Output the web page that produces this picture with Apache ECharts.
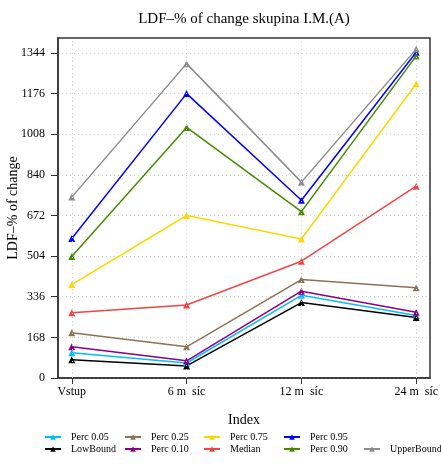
<!DOCTYPE html>
<html>
<head>
<meta charset="utf-8">
<script src="https://cdn.jsdelivr.net/npm/echarts@6/dist/echarts.min.js"></script>
<style>
html,body{margin:0;padding:0;background:#fff;}
#chart{width:441px;height:473px;}
</style>
</head>
<body>
<div id="chart"></div>
<script>
const categories = ['Vstup', '6 m  síc', '12 m  síc', '24 m  síc'];
const yTicks = [0, 168, 336, 504, 672, 840, 1008, 1176, 1344];

const perc005 = [104, 62, 342, 258];
const lowBound = [75, 50, 312, 250];
const perc025 = [187, 129, 407, 373];
const perc010 = [129, 71, 359, 272];
const perc075 = [386, 672, 575, 1217];
const median = [270, 302, 483, 793];
const perc095 = [577, 1176, 735, 1347];
const perc090 = [502, 1036, 688, 1332];
const upperBound = [748, 1300, 810, 1360];

const seriesDefs = [
  {name: 'Perc 0.05', data: perc005, color: '#00BFFF'},
  {name: 'LowBound', data: lowBound, color: '#000000'},
  {name: 'Perc 0.25', data: perc025, color: '#8B7355'},
  {name: 'Perc 0.10', data: perc010, color: '#8B008B'},
  {name: 'Perc 0.75', data: perc075, color: '#FFD700'},
  {name: 'Median', data: median, color: '#F04545'},
  {name: 'Perc 0.95', data: perc095, color: '#0000FF'},
  {name: 'Perc 0.90', data: perc090, color: '#458B00'},
  {name: 'UpperBound', data: upperBound, color: '#8C8C8C'}
];

const FONT = '"Liberation Serif", "DejaVu Serif", serif';
const catIdx = categories.map((c, i) => i);

const series = seriesDefs.map(d => ({
  name: d.name,
  type: 'line',
  data: d.data.map((v, i) => [i, v]),
  symbol: 'triangle',
  symbolSize: 7,
  z: 3,
  itemStyle: {color: d.color},
  lineStyle: {color: d.color, width: 1.5},
  emphasis: {disabled: true},
  animation: false
}));

// vertical grid lines at category positions
series.push({
  name: '_grid',
  type: 'line',
  data: [],
  z: 1,
  silent: true,
  markLine: {
    silent: true,
    symbol: 'none',
    label: {show: false},
    lineStyle: {color: '#d0d0d0', type: [1, 3], width: 1},
    data: catIdx.map(i => ({xAxis: i})),
    animation: false
  }
});

function legendCol(names, left, top) {
  return {
    orient: 'vertical',
    left: left,
    top: top,
    padding: 0,
    itemGap: 2,
    itemWidth: 16,
    itemHeight: 7,
    data: names,
    selectedMode: false,
    textStyle: {fontFamily: FONT, fontSize: 10, color: '#000', padding: [0, 0, 0, 5]}
  };
}

const option = {
  backgroundColor: '#fff',
  animation: false,
  title: {
    text: 'LDF–% of change skupina I.M.(A)',
    left: 244,
    top: 12,
    padding: 0,
    textAlign: 'center',
    textStyle: {fontFamily: FONT, fontSize: 15, fontWeight: 'normal', color: '#000'}
  },
  legend: [
    legendCol(['Perc 0.05', 'LowBound'], 44, 432),
    legendCol(['Perc 0.25', 'Perc 0.10'], 124, 432),
    legendCol(['Perc 0.75', 'Median'], 203, 432),
    legendCol(['Perc 0.95', 'Perc 0.90'], 283, 432),
    legendCol(['UpperBound'], 363, 444)
  ],
  grid: {
    left: 58, right: 11, top: 38, bottom: 95,
    containLabel: false, outerBoundsMode: 'none',
    show: true, borderColor: '#333', borderWidth: 1.5
  },
  xAxis: {
    type: 'value',
    min: -0.12,
    max: 3.12,
    name: 'Index',
    nameLocation: 'middle',
    nameGap: 35,
    nameMoveOverlap: false,
    nameTextStyle: {fontFamily: FONT, fontSize: 14, color: '#000'},
    axisLine: {show: true, onZero: false, lineStyle: {color: '#333', width: 1.5}},
    axisTick: {show: true, length: 6, customValues: catIdx, lineStyle: {color: '#333'}},
    axisLabel: {
      customValues: catIdx,
      margin: 8,
      fontFamily: FONT, fontSize: 12, color: '#000',
      formatter: v => categories[Math.round(v)] || ''
    },
    splitLine: {show: false}
  },
  yAxis: {
    type: 'value',
    min: 0,
    max: 1406,
    interval: 168,
    name: 'LDF–% of change',
    nameLocation: 'middle',
    nameGap: 38,
    nameMoveOverlap: false,
    nameTextStyle: {fontFamily: FONT, fontSize: 14, color: '#000'},
    axisLine: {show: true, onZero: false, lineStyle: {color: '#333', width: 1.5}},
    axisTick: {show: true, length: 7, customValues: yTicks, lineStyle: {color: '#333'}},
    axisLabel: {
      customValues: yTicks,
      margin: 13,
      fontFamily: FONT, fontSize: 12, color: '#000',
      formatter: v => String(v)
    },
    splitLine: {show: true, lineStyle: {color: '#d0d0d0', type: [1, 3], width: 1}}
  },
  series: series
};

const chart = echarts.init(document.getElementById('chart'), null, {renderer: 'canvas'});
chart.setOption(option);
</script>
</body>
</html>
